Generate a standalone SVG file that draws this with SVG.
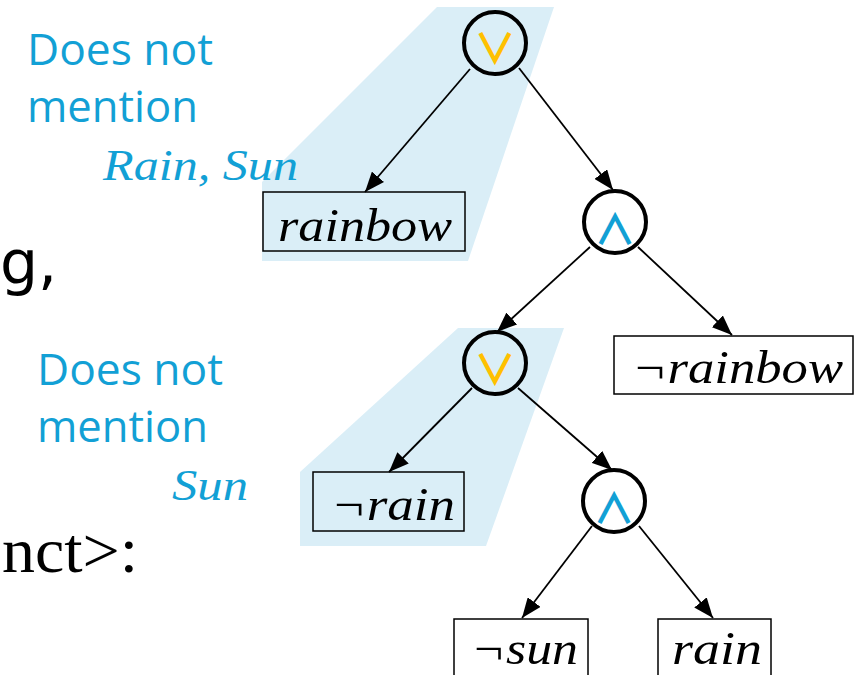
<svg xmlns="http://www.w3.org/2000/svg" width="864" height="675" viewBox="0 0 864 675">
<defs>
<style>
.shade{fill:#DAEEF7;stroke:none}
.op{fill:none;stroke:#000;stroke-width:4}
.box{fill:none;stroke:#000;stroke-width:1.5}
.math{font-family:"Liberation Serif","DejaVu Serif",serif;font-style:italic;font-size:46px;fill:#000}
.blue{font-family:"Open Sans","Noto Sans",sans-serif;font-size:44px;fill:#12A0D5}
.bmath{font-family:"Liberation Serif","DejaVu Serif",serif;font-style:italic;font-size:44px;fill:#12A0D5}
.sym{font-family:"Noto Sans CJK SC","DejaVu Sans",sans-serif;font-size:42px;font-weight:600;text-anchor:middle}
.serif{font-family:"Liberation Serif","DejaVu Serif",serif;font-size:64px;fill:#000}
.conn line{stroke:#000;stroke-width:1.8;marker-end:url(#ah)}
</style>
<marker id="ah" markerUnits="userSpaceOnUse" markerWidth="22" markerHeight="16" refX="20" refY="8" orient="auto">
<path d="M0,0 L20,8 L0,16 Z" fill="#000"/>
</marker>
</defs>
<rect width="864" height="675" fill="#fff"/>
<polygon class="shade" points="437,7 554,7 468,261 262,261 262,182"/>
<polygon class="shade" points="458,328 564,328 486,546 300,546 300,472"/>

<text x="0" y="283" style="font-family:'DejaVu Sans',sans-serif;font-size:60px;fill:#000">g,</text>
<text class="serif" x="2" y="572" textLength="136" lengthAdjust="spacingAndGlyphs">nct&gt;:</text>

<g id="note1">
<text class="blue" x="27" y="65" textLength="186" lengthAdjust="spacingAndGlyphs">Does not</text>
<text class="blue" x="27" y="122" textLength="171" lengthAdjust="spacingAndGlyphs">mention</text>
<text class="bmath" x="103" y="180" textLength="195" lengthAdjust="spacingAndGlyphs">Rain, Sun</text>
</g>
<g id="note2">
<text class="blue" x="37" y="385" textLength="186" lengthAdjust="spacingAndGlyphs">Does not</text>
<text class="blue" x="37" y="442" textLength="171" lengthAdjust="spacingAndGlyphs">mention</text>
<text class="bmath" x="172" y="500" textLength="76" lengthAdjust="spacingAndGlyphs">Sun</text>
</g>

<g id="connectors" class="conn">
<line x1="470" y1="69" x2="365" y2="192"/>
<line x1="519" y1="68" x2="613" y2="190"/>
<line x1="590" y1="247" x2="497" y2="332"/>
<line x1="638" y1="247" x2="732" y2="335"/>
<line x1="472" y1="388" x2="389" y2="472"/>
<line x1="518" y1="388" x2="612" y2="470"/>
<line x1="592" y1="526" x2="522" y2="618"/>
<line x1="639" y1="526" x2="713" y2="618"/>
</g>

<g id="or1">
<circle class="op" cx="495" cy="43" r="31"/>
<text class="sym" x="495" y="64" fill="#FFC000">∨</text>
</g>
<g id="and1">
<circle class="op" cx="615" cy="222" r="31"/>
<text class="sym" x="615" y="245" fill="#12A0D5">∧</text>
</g>
<g id="or2">
<circle class="op" cx="495" cy="363" r="31"/>
<text class="sym" x="495" y="385" fill="#FFC000">∨</text>
</g>
<g id="and2">
<circle class="op" cx="614" cy="501" r="31"/>
<text class="sym" x="614" y="524" fill="#12A0D5">∧</text>
</g>

<g id="rainbow">
<rect class="box" x="263" y="192" width="202" height="59"/>
<text class="math" x="278" y="241" textLength="174" lengthAdjust="spacingAndGlyphs">rainbow</text>
</g>
<g id="notrainbow">
<rect class="box" x="614" y="336" width="239" height="58"/>
<text class="math" x="632" y="383" textLength="211" lengthAdjust="spacingAndGlyphs">¬rainbow</text>
</g>
<g id="notrain">
<rect class="box" x="313" y="472" width="151" height="59"/>
<text class="math" x="331" y="520" textLength="124" lengthAdjust="spacingAndGlyphs">¬rain</text>
</g>
<g id="notsun">
<rect class="box" x="454" y="619" width="134" height="70"/>
<text class="math" x="471" y="664" font-size="44" textLength="107" lengthAdjust="spacingAndGlyphs">¬sun</text>
</g>
<g id="rain">
<rect class="box" x="658" y="619" width="113" height="70"/>
<text class="math" x="672" y="664" font-size="44" textLength="90" lengthAdjust="spacingAndGlyphs">rain</text>
</g>
</svg>
